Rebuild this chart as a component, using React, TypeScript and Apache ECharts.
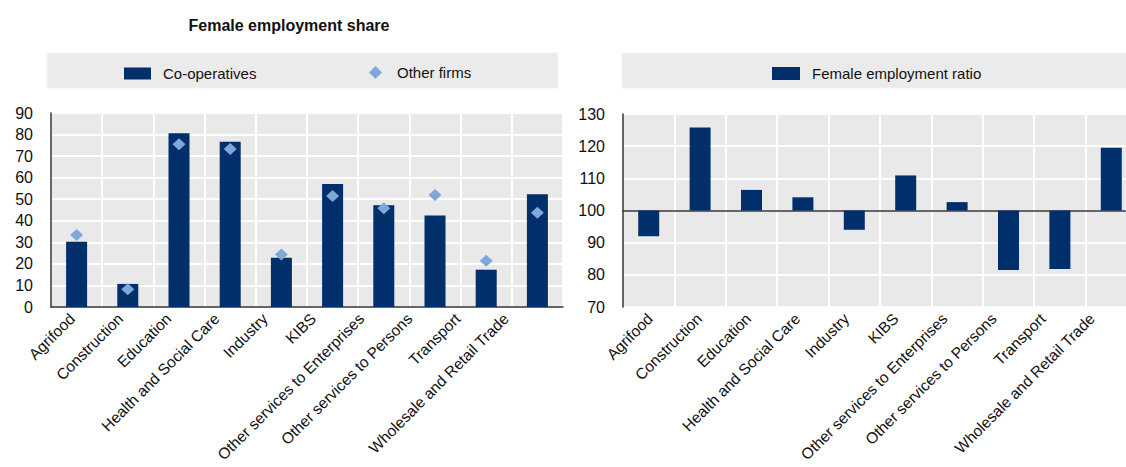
import React, { useEffect, useRef } from "react";
import * as echarts from "echarts";

const categories = [
  "Agrifood",
  "Construction",
  "Education",
  "Health and Social Care",
  "Industry",
  "KIBS",
  "Other services to Enterprises",
  "Other services to Persons",
  "Transport",
  "Wholesale and Retail Trade",
];
const coopShare = [30.3, 10.7, 80.6, 76.7, 22.9, 57.1, 47.2, 42.4, 17.3, 52.3];
const otherFirmsShare = [33.4, 8.2, 75.5, 73.3, 24.4, 51.5, 45.8, 52.0, 21.5, 43.7];
const femaleRatio = [92.0, 125.8, 106.4, 104.1, 94.0, 110.9, 102.6, 81.5, 81.8, 119.5];
const ratioBase = 100;

const FONT = "Liberation Sans, Arial, sans-serif";
const NAVY = "#002f6c";
const LIGHT = "#7fa8d9";
const PLOT_BG = "#e9e9e9";
const AXIS = "#333333";

export default function App() {
  const ref = useRef<HTMLDivElement>(null);
  useEffect(() => {
    if (!ref.current) return;
    const chart = echarts.init(ref.current, undefined, { renderer: "svg" });
    const catLabel = {
      rotate: 45,
      fontSize: 15.5,
      fontFamily: FONT,
      color: "#111",
      interval: 0,
      margin: 9,
    };
    const hiddenLabel = { show: false, interval: 0 };
    const whiteSplit = { show: true, interval: 0, lineStyle: { color: "#ffffff", width: 2 } };
    const zeroTick = { inside: true, length: 5, interval: 0, lineStyle: { color: AXIS } };
    const valLabel = { fontSize: 16, fontFamily: FONT, color: "#111", margin: 18 };
    const legendText = { fontSize: 15, fontFamily: FONT, color: "#111" };
    const option: any = {
      animation: false,
      graphic: [
        {
          type: "text",
          x: 289,
          y: 17,
          style: {
            text: "Female employment share",
            font: "bold 16px " + FONT,
            fill: "#111",
            textAlign: "center",
          },
        },
        {
          type: "rect",
          shape: { x: 47, y: 53, width: 511, height: 35 },
          style: { fill: "#ebebeb", stroke: "#f3f3f3" },
          z: -10,
        },
        {
          type: "rect",
          shape: { x: 622, y: 53, width: 520, height: 35 },
          style: { fill: "#ebebeb", stroke: "#f3f3f3" },
          z: -10,
        },
      ],
      legend: [
        {
          data: ["Co-operatives"],
          left: 119,
          top: 61,
          itemWidth: 27,
          itemHeight: 12,
          icon: "rect",
          textStyle: { ...legendText, padding: [0, 0, 0, 7] },
        },
        {
          data: ["Other firms"],
          left: 364,
          top: 60,
          itemWidth: 13,
          itemHeight: 13,
          icon: "diamond",
          textStyle: { ...legendText, padding: [0, 0, 0, 10] },
        },
        {
          data: ["Female employment ratio"],
          left: 767,
          top: 61,
          itemWidth: 28,
          itemHeight: 13,
          icon: "rect",
          textStyle: { ...legendText, padding: [0, 0, 0, 7] },
        },
      ],
      grid: [
        {
          left: 51,
          top: 113,
          width: 512,
          height: 194,
          show: true,
          backgroundColor: PLOT_BG,
          borderWidth: 0,
        },
        {
          left: 623,
          top: 114,
          width: 514,
          height: 193,
          show: true,
          backgroundColor: PLOT_BG,
          borderWidth: 0,
        },
        // label-only grids (labels in the reference are spaced slightly tighter than the bars)
        { left: 48, top: 113, width: 482, height: 194, show: false },
        { left: 625.5, top: 114, width: 491, height: 193, show: false },
      ],
      xAxis: [
        {
          type: "category",
          gridIndex: 0,
          data: categories,
          axisLine: { lineStyle: { color: AXIS, width: 1.5 } },
          axisTick: zeroTick,
          axisLabel: hiddenLabel,
          splitLine: whiteSplit,
        },
        {
          type: "category",
          gridIndex: 1,
          data: categories,
          position: "bottom",
          axisLine: { show: false, onZero: false },
          axisTick: { show: false },
          axisLabel: hiddenLabel,
          splitLine: whiteSplit,
        },
        {
          type: "category",
          gridIndex: 1,
          data: categories,
          axisLine: { show: true, onZero: true, lineStyle: { color: AXIS, width: 1.5 } },
          axisTick: zeroTick,
          axisLabel: hiddenLabel,
          splitLine: { show: false },
        },
        {
          type: "category",
          gridIndex: 2,
          data: categories,
          axisLine: { show: false, onZero: false },
          axisTick: { show: false },
          axisLabel: catLabel,
          splitLine: { show: false },
        },
        {
          type: "category",
          gridIndex: 3,
          data: categories,
          axisLine: { show: false, onZero: false },
          axisTick: { show: false },
          axisLabel: catLabel,
          splitLine: { show: false },
        },
      ],
      yAxis: [
        {
          type: "value",
          gridIndex: 0,
          min: 0,
          max: 90,
          interval: 10,
          axisLine: { show: true, lineStyle: { color: AXIS, width: 1.5 } },
          axisTick: { show: false },
          axisLabel: valLabel,
          splitLine: { lineStyle: { color: "#ffffff", width: 2 } },
        },
        {
          type: "value",
          gridIndex: 1,
          min: -30,
          max: 30,
          interval: 10,
          axisLine: { show: true, onZero: false, lineStyle: { color: AXIS, width: 1.5 } },
          axisTick: { show: false },
          axisLabel: { ...valLabel, formatter: (v: number) => String(v + ratioBase) },
          splitLine: { lineStyle: { color: "#ffffff", width: 2 } },
        },
        { type: "value", gridIndex: 2, show: false },
        { type: "value", gridIndex: 3, show: false },
      ],
      series: [
        {
          name: "Co-operatives",
          type: "bar",
          xAxisIndex: 0,
          yAxisIndex: 0,
          data: coopShare,
          barWidth: 21,
          itemStyle: { color: NAVY },
        },
        {
          name: "Other firms",
          type: "scatter",
          xAxisIndex: 0,
          yAxisIndex: 0,
          data: otherFirmsShare,
          symbol: "diamond",
          symbolSize: [13, 12],
          itemStyle: { color: LIGHT, opacity: 1 },
          z: 5,
        },
        {
          name: "Female employment ratio",
          type: "bar",
          xAxisIndex: 2,
          yAxisIndex: 1,
          data: femaleRatio.map((v) => +(v - ratioBase).toFixed(2)),
          barWidth: 21,
          itemStyle: { color: NAVY },
        },
      ],
    };
    chart.setOption(option);
    return () => chart.dispose();
  }, []);
  return (
    <div
      style={{
        position: "absolute",
        left: 0,
        top: 0,
        width: 1126,
        height: 467,
        overflow: "hidden",
        background: "#fff",
      }}
    >
      <div ref={ref} style={{ width: 1142, height: 467 }} />
    </div>
  );
}
